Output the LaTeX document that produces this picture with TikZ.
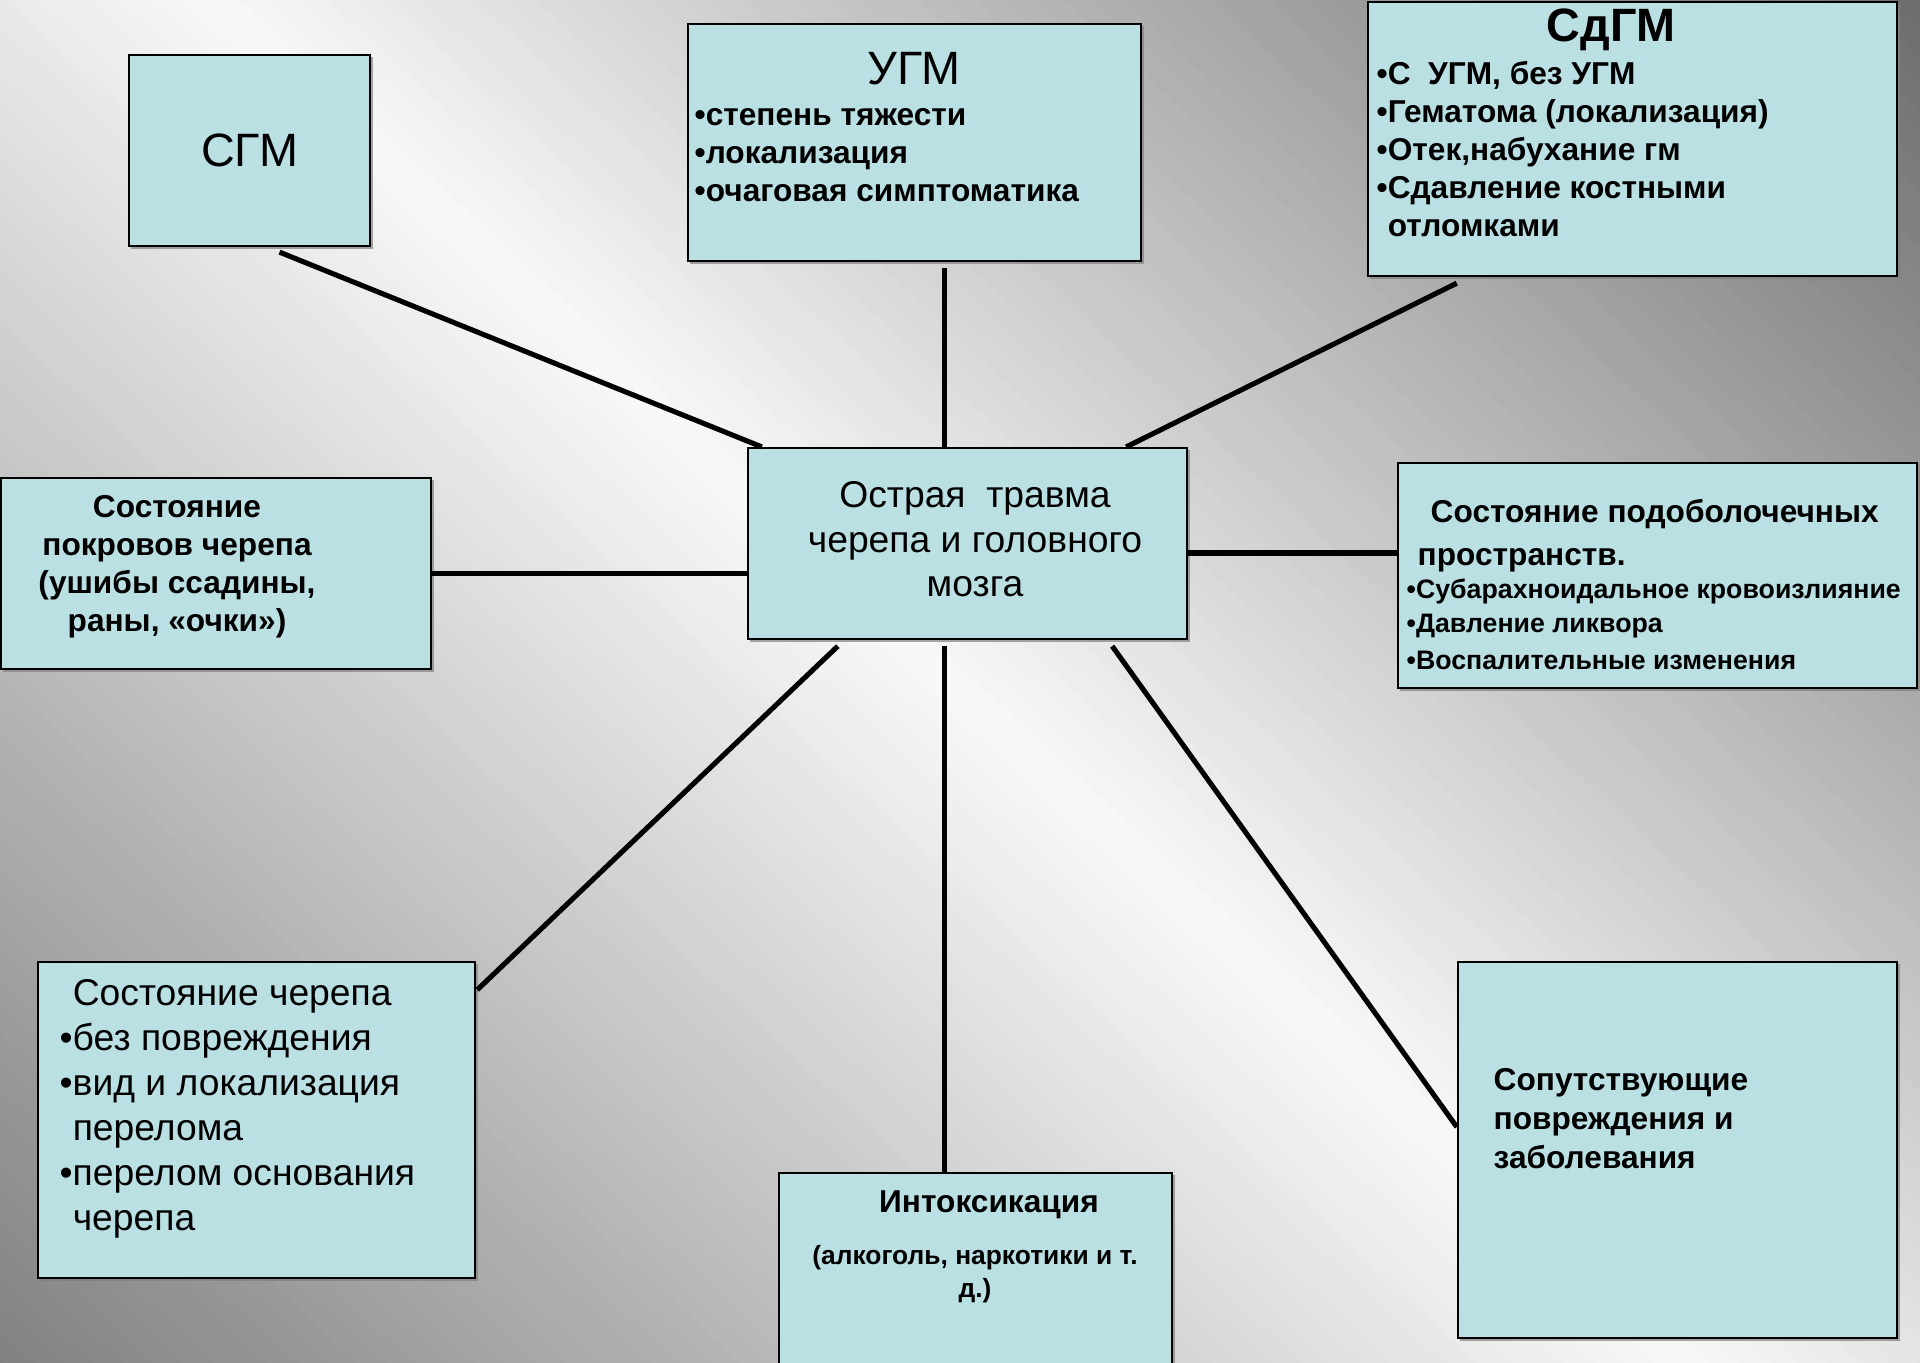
\documentclass[tikz,border=0pt]{standalone}
\usepackage{fontspec}
\setmainfont{Liberation Sans}
\usetikzlibrary{calc,shadows}
\definecolor{boxfill}{HTML}{BBE0E3}
\tikzset{
  box/.style={draw=black, line width=0.6pt, fill=boxfill, inner sep=0pt,
    drop shadow={shadow xshift=0.7pt, shadow yshift=-0.7pt, fill=black!50, opacity=0.7}},
  link/.style={line width=1.45pt},
  txt/.style={inner sep=0pt, align=left},
  bigtext/.style={inner sep=0pt, font=\fontsize{13.3}{16}\selectfont},
  regtext/.style={inner sep=0pt, font=\fontsize{10.6}{12.6}\selectfont},
  boldtext/.style={inner sep=0pt, font=\bfseries\fontsize{9}{10.8}\selectfont},
  smalltext/.style={inner sep=0pt, font=\bfseries\fontsize{7.6}{9.6}\selectfont}
}

\begin{document}
\begin{tikzpicture}[x=0.01cm, y=-0.01cm]
\useasboundingbox (0,0) rectangle (1920,1362);
% background
\begin{scope}
\clip (0,0) rectangle (1920,1362);
\begin{scope}[shift={(600,360)}, rotate=47.2]
\foreach \d in {-1300,-1280,...,1300}
{
\pgfmathsetmacro\v{\d+10>0 ? 248-0.12*(\d+10) : 248+0.104*(\d+10)}
\pgfmathsetmacro\p{100*(1-\v/255)}
\fill[black!\p] (\d,-2200) rectangle (\d+21,2200);
}
\end{scope}
\end{scope}

\node[box, minimum width=2.41cm, minimum height=1.91cm] (sgm)    at (249.5,150.5) {};
\node[box, minimum width=4.53cm, minimum height=2.37cm] (ugm)    at (914.5,142.5) {};
\node[box, minimum width=5.29cm, minimum height=2.74cm] (sdgm)   at (1632.5,139)  {};
\node[box, minimum width=4.39cm, minimum height=1.91cm] (trauma) at (967.5,543.5) {};
\node[box, minimum width=4.30cm, minimum height=1.91cm] (pokr)   at (216,573.5)   {};
\node[box, minimum width=5.19cm, minimum height=2.25cm] (podob)  at (1657.5,575.5) {};
\node[box, minimum width=4.37cm, minimum height=3.16cm] (cherep) at (256.5,1120)  {};
\node[box, minimum width=3.93cm, minimum height=2.10cm] (intox)  at (975.5,1278)  {};
\node[box, minimum width=4.39cm, minimum height=3.76cm] (soput)  at (1677.5,1150) {};

\node[bigtext] (sgm-t) at (sgm) {СГМ};
\node[bigtext, anchor=base] (ugm-t) at (914,84) {УГМ};
\node[boldtext, txt, anchor=north west] (ugm-l) at (694,108)
  {•степень тяжести\\•локализация\\•очаговая симптоматика};
\node[inner sep=0pt, font=\bfseries\fontsize{13.3}{16}\selectfont, anchor=base] (sdgm-t) at (1611,41) {СдГМ};
\node[boldtext, txt, anchor=north west] (sdgm-l) at (1376,61)
  {•С~~УГМ, без УГМ\\•Гематома (локализация)\\•Отек,набухание гм\\•Сдавление костными\\\phantom{•}отломками};
\node[regtext, align=center, anchor=north] (trauma-t) at (975,481)
  {Острая~~травма\\черепа и головного\\мозга};
\node[boldtext, align=center, anchor=north] (pokr-t) at (177,495)
  {Состояние\\покровов черепа\\(ушибы ссадины,\\раны, «очки»)};
\node[inner sep=0pt, font=\bfseries\fontsize{9}{12.2}\selectfont, align=left, anchor=north west] (podob-t) at (1417,499)
  {\hspace{3.7pt}Состояние подоболочечных\\пространств.};
\node[smalltext, txt, anchor=north west] (podob-l) at (1406,578)
  {•Субарахноидальное кровоизлияние\\•Давление ликвора\\[1pt]•Воспалительные изменения};
\node[inner sep=0pt, font=\fontsize{10.6}{12.8}\selectfont, align=left, anchor=north west] (cherep-t) at (59,979)
  {\phantom{•}Состояние черепа\\•без повреждения\\•вид и локализация\\\phantom{•}перелома\\•перелом основания\\\phantom{•}черепа};
\node[boldtext, anchor=base] (intox-t) at (989,1212) {Интоксикация};
\node[inner sep=0pt, font=\bfseries\fontsize{7.5}{9.4}\selectfont, align=center, anchor=north] (intox-l) at (975,1245)
  {(алкоголь, наркотики и т.\\д.)};
\node[inner sep=0pt, font=\bfseries\fontsize{9}{11}\selectfont, align=left, anchor=north west] (soput-t) at (1493,1068)
  {Сопутствующие\\повреждения и\\заболевания};

\draw[link] ($(sgm.south)+(30,5)$) -- ($(trauma.north west)+(15,0)$);
\coordinate (ugm-a) at ($(ugm.south)+(30,6)$);
\draw[link] (ugm-a) -- (ugm-a |- trauma.north);
\draw[link] ($(sdgm.south west)+(90,6)$) -- ($(trauma.north east)+(-62,0)$);
\draw[link] (pokr.east) -- (pokr.east -| trauma.west);
\coordinate (podob-a) at ($(trauma.east)+(0,9.5)$);
\draw[link] (podob-a) -- (podob-a -| podob.west);
\draw[link] ($(trauma.south west)+(91,6)$) -- ($(cherep.north east)+(1,29)$);
\coordinate (intox-a) at ($(trauma.south)+(-23,6)$);
\draw[link] (intox-a) -- (intox-a |- intox.north);
\draw[link] ($(trauma.south east)+(-76,6)$) -- ($(soput.west)+(0,-23)$);
\end{tikzpicture}
\end{document}
